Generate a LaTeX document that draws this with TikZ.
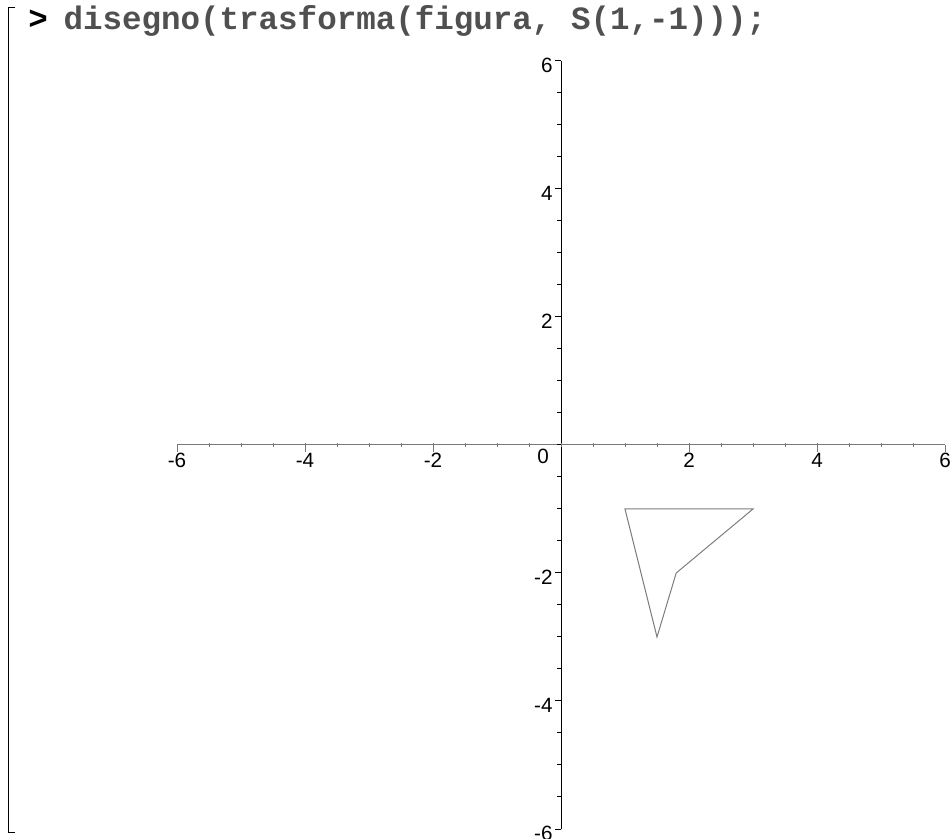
\documentclass[tikz,border=0pt]{standalone}
\usepackage{fontspec}
\setmainfont{Liberation Sans}
\newfontfamily\maplemono{Liberation Mono}
\usetikzlibrary{positioning}
\definecolor{inputgray}{RGB}{80, 80, 80}
\definecolor{axisgray}{RGB}{120, 120, 120}
\definecolor{shapegray}{RGB}{125, 125, 125}

\tikzset{
  ticklabel/.style={inner sep=1pt, font=\fontsize{15.5}{18}\selectfont},
  mapleinput/.style={inner sep=0pt, anchor=base west, font=\maplemono\bfseries\fontsize{24.4}{28}\selectfont}
}

\begin{document}
\begin{tikzpicture}[x=0.75pt, y=0.75pt, line width=0.75pt]
  \useasboundingbox (0,0) rectangle (952,838);

  % worksheet bracket and input line
  \draw (15,830) -- (8,830) -- (8,6) -- (15,6);
  \node[mapleinput] (prompt) at (28,808) {>};
  \node[mapleinput, text=inputgray] (command) at (63,808) {disegno(trasforma(figura, S(1,-1)));};

  \begin{scope}[shift={(561,393)}, x=48pt, y=48pt]
    % axes
    \draw[axisgray] (-6,0) -- (6,0);
    \draw (0,-6) -- (0,6);
    % ticks
    \foreach \t in {-5.5,-5,...,5.6} {
      \draw[axisgray] (\t,1.5pt) -- (\t,-1.5pt);
      \draw (0,\t) -- ++(-3pt,0);
    }
    \foreach \v in {-6,-4,-2,2,4,6} {
      \draw[axisgray] (\v,0) -- ++(0,-5pt);
      \draw (0,\v) -- ++(-4.5pt,0);
      \node[ticklabel, anchor=north] (xl\v) at ([yshift=-5pt]\v,0) {\v};
      \node[ticklabel, anchor=east] (yl\v) at ([xshift=-5pt, yshift=-3.5pt]0,\v) {\v};
    }
    \node[ticklabel] (origin) at (-13.5pt,-8.5pt) {0};

    % transformed figure
    \draw[shapegray] (1,-1) -- (3,-1) -- (1.8,-2) -- (1.5,-3) -- cycle;
  \end{scope}
\end{tikzpicture}
\end{document}
